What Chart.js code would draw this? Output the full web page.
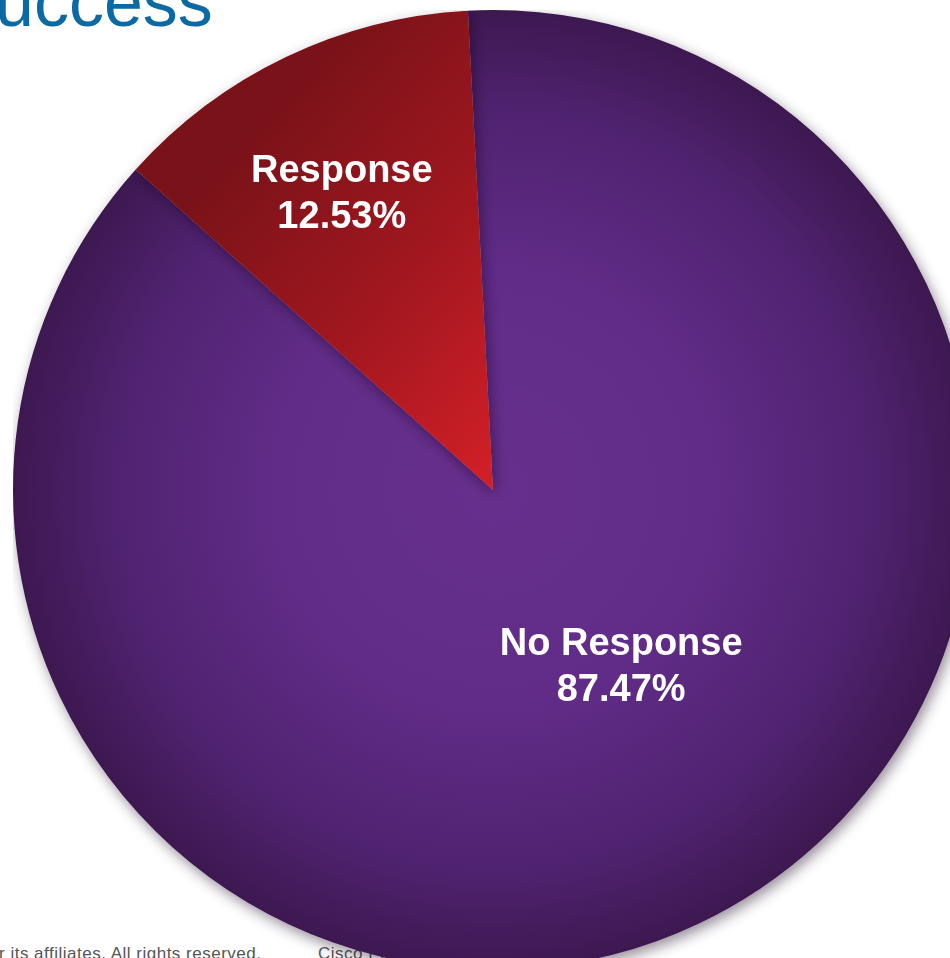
<!DOCTYPE html>
<html>
<head>
<meta charset="utf-8">
<script src="https://cdn.jsdelivr.net/npm/chart.js@4/dist/chart.umd.min.js"></script>
<style>
  html, body { margin: 0; padding: 0; width: 950px; height: 958px; overflow: hidden; background: #ffffff; position: relative; }
  #title { position: absolute; left: -5px; top: -38px; font-family: "Liberation Sans", Arial, sans-serif; font-size: 70px; color: #0b6aa4; white-space: nowrap; }
  .foot { position: absolute; top: 944px; font-family: "Liberation Sans", Arial, sans-serif; font-size: 17px; color: #555; letter-spacing: 0.5px; white-space: nowrap; }
  #wrap { position: absolute; left: 13px; top: 10px; width: 960px; height: 960px; }
</style>
</head>
<body>
<div id="title">uccess</div>
<div class="foot" style="left:-1px">r its affiliates. All rights reserved.</div>
<div class="foot" style="left:318px">Cisco Public</div>
<div id="wrap"><canvas id="c" width="960" height="960"></canvas></div>
<script>
const categories = ["No Response", "Response"];
const values = [87.47, 12.53];
const valueLabels = ["87.47%", "12.53%"];

const labelOffsets = [[0.267, 0.369], [-0.315, -0.615]];

const shadowPlugin = {
  id: 'shadow',
  beforeDatasetDraw(chart) {
    const ctx = chart.ctx;
    ctx.save();
    ctx.shadowColor = 'rgba(20,0,30,0.45)';
    ctx.shadowBlur = 14;
    ctx.shadowOffsetX = 3;
    ctx.shadowOffsetY = 5;
  },
  afterDatasetDraw(chart) { chart.ctx.restore(); }
};

const labelPlugin = {
  id: 'labels',
  afterDatasetsDraw(chart) {
    const ctx = chart.ctx;
    const meta = chart.getDatasetMeta(0);
    ctx.save();
    ctx.fillStyle = '#ffffff';
    ctx.font = 'bold 38px "Liberation Sans", Arial, sans-serif';
    ctx.textAlign = 'center';
    ctx.textBaseline = 'middle';
    meta.data.forEach((arc, i) => {
      const r = arc.outerRadius;
      const x = arc.x + labelOffsets[i][0] * r;
      const y = arc.y + labelOffsets[i][1] * r;
      ctx.fillText(categories[i], x, y - 23);
      ctx.fillText(valueLabels[i], x, y + 23);
    });
    ctx.restore();
  }
};

function fill(context) {
  const chart = context.chart;
  const area = chart.chartArea;
  if (!area) return '#5a2a80';
  const ctx = chart.ctx;
  const cx = (area.left + area.right) / 2, cy = (area.top + area.bottom) / 2;
  const r = Math.min(area.right - area.left, area.bottom - area.top) / 2;
  if (context.dataIndex === 0) {
    const g = ctx.createRadialGradient(cx, cy, 0, cx, cy, r);
    g.addColorStop(0, '#672f8d');
    g.addColorStop(0.45, '#612c88');
    g.addColorStop(0.8, '#4f226f');
    g.addColorStop(1, '#3d1850');
    return g;
  }
  const g = ctx.createLinearGradient(cx - 0.62 * r, cy - 0.62 * r, cx + 0.02 * r, cy - 0.05 * r);
  g.addColorStop(0, '#7a1219');
  g.addColorStop(0.5, '#a0171f');
  g.addColorStop(1, '#d21f27');
  return g;
}

new Chart(document.getElementById('c'), {
  type: 'pie',
  data: {
    labels: categories,
    datasets: [{ data: values, backgroundColor: fill, borderWidth: 0 }]
  },
  options: {
    responsive: false,
    animation: false,
    rotation: -3,
    layout: { padding: 0 },
    plugins: { legend: { display: false }, tooltip: { enabled: false } }
  },
  plugins: [shadowPlugin, labelPlugin]
});
</script>
</body>
</html>
